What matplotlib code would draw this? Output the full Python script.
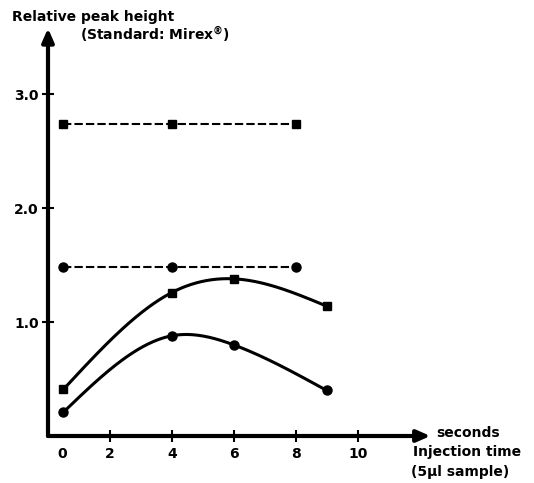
import numpy as np
import matplotlib
matplotlib.use("Agg")
import matplotlib.pyplot as plt

# Data
x_std = [0.5, 4, 8]
y_std_square = [2.74, 2.74, 2.74]
y_std_circle = [1.48, 1.48, 1.48]

x_curve = [0.5, 4, 6, 9]
y_curve_square = [0.41, 1.26, 1.38, 1.14]
y_curve_circle = [0.21, 0.88, 0.80, 0.40]

x_ticks = [0, 2, 4, 6, 8, 10]
x_ticklabels = ["0", "2", "4", "6", "8", "10"]
y_ticks = [1, 2, 3]
y_ticklabels = ["1.0", "2.0", "3.0"]


def smooth(xs, ys, n=200):
    # natural cubic spline through the given points (drawing style only)
    x = np.asarray(xs, float)
    y = np.asarray(ys, float)
    k = len(x)
    h = np.diff(x)
    A = np.zeros((k, k))
    b = np.zeros(k)
    A[0, 0] = A[-1, -1] = 1
    for i in range(1, k - 1):
        A[i, i - 1] = h[i - 1]
        A[i, i] = 2 * (h[i - 1] + h[i])
        A[i, i + 1] = h[i]
        b[i] = 3 * ((y[i + 1] - y[i]) / h[i] - (y[i] - y[i - 1]) / h[i - 1])
    c = np.linalg.solve(A, b)
    xx = np.linspace(x[0], x[-1], n)
    idx = np.clip(np.searchsorted(x, xx) - 1, 0, k - 2)
    d = (c[idx + 1] - c[idx]) / (3 * h[idx])
    bb = (y[idx + 1] - y[idx]) / h[idx] - h[idx] * (2 * c[idx] + c[idx + 1]) / 3
    t = xx - x[idx]
    yy = y[idx] + bb * t + c[idx] * t ** 2 + d * t ** 3
    return xx, yy


fig = plt.figure(figsize=(5.34, 4.83), dpi=100)
ax = fig.add_axes([48 / 534, 47 / 483, 384 / 534, 410 / 483])
ax.set_xlim(0, 12.4)
ax.set_ylim(0, 3.6)
for s in ax.spines.values():
    s.set_visible(False)

# axes with arrows
ax.annotate("", xy=(12.35, 0), xytext=(0, 0), xycoords="data",
            arrowprops=dict(arrowstyle="-|>,head_length=0.8,head_width=0.35",
                            lw=3, color="black", shrinkA=0, shrinkB=0),
            annotation_clip=False)
ax.annotate("", xy=(0, 3.58), xytext=(0, 0), xycoords="data",
            arrowprops=dict(arrowstyle="-|>,head_length=0.8,head_width=0.35",
                            lw=3, color="black", shrinkA=0, shrinkB=0),
            annotation_clip=False)

ax.set_xticks(x_ticks[1:])
ax.set_xticklabels([])
ax.set_yticks(y_ticks)
ax.set_yticklabels(y_ticklabels, fontweight="bold", fontsize=10)
ax.tick_params(axis="both", direction="inout", length=9, width=1.5, color="black")
ax.tick_params(axis="y", pad=2)
for xv, lab in zip(x_ticks, x_ticklabels):
    xx = xv if xv != 0 else 0.45
    ax.text(xx, -0.16, lab, ha="center", va="center", fontweight="bold", fontsize=10)

# dashed standard lines
ax.plot(x_std, y_std_square, ls=(0, (4, 1.5)), lw=1.5, color="black",
        marker="s", markersize=6)
ax.plot(x_std, y_std_circle, ls=(0, (4, 1.5)), lw=1.5, color="black",
        marker="o", markersize=6.5)

# smooth curves
sx, sy = smooth(x_curve, y_curve_square)
ax.plot(sx, sy, lw=2.2, color="black")
ax.plot(x_curve, y_curve_square, ls="none", marker="s", markersize=6, color="black")
cx, cy = smooth(x_curve, y_curve_circle)
ax.plot(cx, cy, lw=2.2, color="black")
ax.plot(x_curve, y_curve_circle, ls="none", marker="o", markersize=6.5, color="black")

# texts
fig.text(12 / 534, 1 - 17 / 483, "Relative peak height", fontweight="heavy",
         fontsize=10, va="center", ha="left")
fig.text(80 / 534, 1 - 35 / 483, "(Standard: Mirex$^{\\mathbf{®}}$)", fontweight="bold",
         fontsize=10, va="center", ha="left")
fig.text(436 / 534, 1 - 433 / 483, "seconds", fontweight="bold", fontsize=10,
         va="center", ha="left")
fig.text(467 / 534, 1 - 452 / 483, "Injection time", fontweight="bold", fontsize=10,
         va="center", ha="center")
fig.text(460 / 534, 1 - 472 / 483, "(5µl sample)", fontweight="bold", fontsize=10,
         va="center", ha="center")

fig.savefig("out.png", dpi=100)
